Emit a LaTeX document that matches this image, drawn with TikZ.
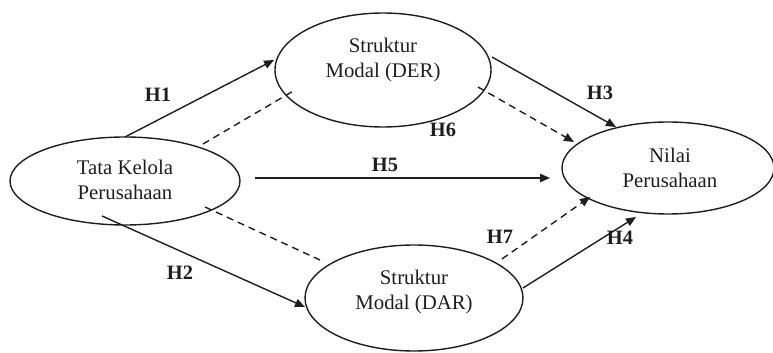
\documentclass[tikz,border=0pt]{standalone}
\usepackage{fontspec}
\setmainfont{Liberation Serif}
\usetikzlibrary{shapes.geometric,arrows.meta,calc}
\definecolor{ink}{RGB}{30,30,30}
\begin{document}
\begin{tikzpicture}[x=0.5pt,y=-0.5pt,
  every node/.style={font=\fontsize{10.4}{12.3}\selectfont, text=ink},
  var/.style={ellipse, draw=ink, line width=0.7pt, inner sep=0pt},
  vtext/.style={align=center, inner sep=0pt},
  hyp/.style={font=\fontsize{10.2}{12}\selectfont\bfseries, inner sep=0pt},
  link/.style={draw=ink, line width=0.7pt},
  tip/.style={-{Triangle[length=5pt,width=4.2pt]}},
  dashline/.style={dash pattern=on 3.5pt off 2.5pt}]
  \useasboundingbox (0,0) rectangle (773,353);
  \clip (0,0) rectangle (773,353);

  % variables
  \node[var, minimum width=115pt, minimum height=44pt] (tk) at (125,181) {};
  \node[var, minimum width=108pt, minimum height=57pt] (der) at (383,70) {};
  \node[var, minimum width=106pt, minimum height=46pt] (nv) at (668,168) {};
  \node[var, minimum width=109pt, minimum height=53pt] (dar) at (414,298) {};

  \node[vtext] (tkt) at (125,180) {Tata Kelola\\Perusahaan};
  \node[vtext] (dert) at (383,60) {Struktur\\Modal (DER)};
  \node[vtext] (nvt) at (670,168) {Nilai\\Perusahaan};
  \node[vtext] (dart) at (414,292) {Struktur\\Modal (DAR)};

  % connector end points on the ellipses
  \coordinate (h1a) at ($(tk)+(0,-44)$);
  \coordinate (h1b) at ($(der)+(-109,-10)$);
  \coordinate (d1a) at ($(tk)+(78,-37)$);
  \coordinate (d1b) at ($(der)+(-88,20)$);
  \coordinate (h5a) at ($(tk)+(130,-3)$);
  \coordinate (h5b) at ($(nv)+(-118,10)$);
  \coordinate (h3a) at ($(der)+(109,-13)$);
  \coordinate (h3b) at ($(nv)+(-52,-41)$);
  \coordinate (h6a) at ($(der)+(95,17)$);
  \coordinate (h6b) at ($(nv)+(-94,-26)$);
  \coordinate (h2a) at ($(tk)+(-23,35)$);
  \coordinate (h2b) at ($(dar)+(-109,9)$);
  \coordinate (d2a) at ($(tk)+(80,26)$);
  \coordinate (d2b) at ($(dar)+(-94,-38)$);
  \coordinate (h7a) at ($(dar)+(88,-39)$);
  \coordinate (h7b) at ($(nv)+(-78,29)$);
  \coordinate (h4a) at ($(dar)+(109,-10)$);
  \coordinate (h4b) at ($(nv)+(-32,49)$);

  % direct paths
  \draw[link, tip] (h1a) -- (h1b);
  \draw[link, tip] (h2a) -- (h2b);
  \draw[link, tip] (h3a) -- (h3b);
  \draw[link, tip] (h4a) -- (h4b);
  \draw[link, tip] (h5a) -- (h5b);

  % mediated paths
  \draw[link, dashline] (d1a) -- (d1b);
  \draw[link, dashline, tip] (h6a) -- (h6b);
  \draw[link, dashline] (d2a) -- (d2b);
  \draw[link, dashline, tip] (h7a) -- (h7b);

  % hypothesis labels
  \node[hyp] (l1) at (158,95) {H1};
  \node[hyp] (l2) at (180,273) {H2};
  \node[hyp] (l3) at (600,93) {H3};
  \node[hyp] (l4) at (620,238) {H4};
  \node[hyp] (l5) at (385,165) {H5};
  \node[hyp] (l6) at (443,130) {H6};
  \node[hyp] (l7) at (500,237) {H7};
\end{tikzpicture}
\end{document}
